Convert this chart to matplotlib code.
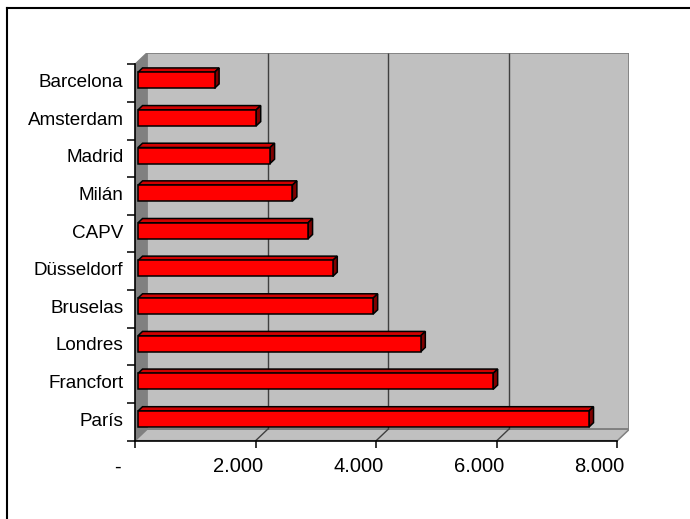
import matplotlib
matplotlib.use("Agg")
import matplotlib.pyplot as plt
from matplotlib.patches import Polygon, Rectangle
from matplotlib.lines import Line2D
from matplotlib.transforms import ScaledTranslation

plt.rcParams['font.family'] = ['Liberation Sans', 'DejaVu Sans']

categories = ["París", "Francfort", "Londres", "Bruselas", "Düsseldorf",
              "CAPV", "Milán", "Madrid", "Amsterdam", "Barcelona"]
values = [7480, 5890, 4690, 3900, 3230, 2820, 2560, 2190, 1960, 1270]
xticks = [0, 2000, 4000, 6000, 8000]
xticklabels = ["-", "2.000", "4.000", "6.000", "8.000"]

W, H = 690, 519
fig = plt.figure(figsize=(W / 100, H / 100), dpi=100)

# 3D depth offsets in data units
DX = 200.0
DY = 0.305
XMAX = 8000
n = len(categories)
y0, y1 = -0.5, n - 0.5

left_px, right_px = 135.0, 629.4
bottom_px, top_px = 440.7, 52.8
ax = fig.add_axes([left_px / W, 1 - bottom_px / H,
                   (right_px - left_px) / W, (bottom_px - top_px) / H])
ax.set_xlim(0, XMAX + DX)
ax.set_ylim(y0, y1 + DY)
ax.patch.set_visible(False)

wall_col = '#C0C0C0'
side_col = '#808080'
edge_col = '#808080'

# side wall
ax.add_patch(Polygon([(0, y0), (DX, y0 + DY), (DX, y1 + DY), (0, y1)],
                     closed=True, facecolor=side_col, edgecolor=side_col,
                     lw=1, zorder=1))
# back wall
ax.add_patch(Rectangle((DX, y0 + DY), XMAX, y1 - y0, facecolor=wall_col,
                       edgecolor=edge_col, lw=1.3, zorder=1))
# floor
ax.add_patch(Polygon([(0, y0), (XMAX, y0), (XMAX + DX, y0 + DY), (DX, y0 + DY)],
                     closed=True, facecolor=wall_col, edgecolor=edge_col,
                     lw=1.1, zorder=1.5))
# gridlines on wall and floor
for v in xticks[1:-1]:
    ax.plot([v + DX, v + DX], [y0 + DY, y1 + DY], color='#404040', lw=1.0,
            zorder=2, solid_capstyle='butt')
    ax.plot([v, v + DX], [y0, y0 + DY], color='#404040', lw=1.0, zorder=2)

# bars
f0, f1 = 0.25, 0.625
h = 0.2125
for i, v in enumerate(values):
    x0 = f0 * DX
    yb = i - h + f0 * DY
    yt = i + h + f0 * DY
    front = Polygon([(x0, yb), (v + x0, yb), (v + x0, yt), (x0, yt)],
                    closed=True, facecolor='#FF0000', edgecolor='black',
                    lw=1.1, zorder=5, joinstyle='miter')
    top = Polygon([(x0, yt), (v + x0, yt), (v + f1 * DX, yt + (f1 - f0) * DY),
                   (f1 * DX, yt + (f1 - f0) * DY)],
                  closed=True, facecolor='#D00000', edgecolor='black',
                  lw=1.1, zorder=4, joinstyle='miter')
    end = Polygon([(v + x0, yb), (v + f1 * DX, yb + (f1 - f0) * DY),
                   (v + f1 * DX, yt + (f1 - f0) * DY), (v + x0, yt)],
                  closed=True, facecolor='#800000', edgecolor='black',
                  lw=1.1, zorder=4, joinstyle='miter')
    ax.add_patch(top)
    ax.add_patch(end)
    ax.add_patch(front)

# spines
for s in ['top', 'right']:
    ax.spines[s].set_visible(False)
ax.spines['left'].set_bounds(y0, y1)
ax.spines['bottom'].set_bounds(0, XMAX)
for s in ['left', 'bottom']:
    ax.spines[s].set_linewidth(1.2)
    ax.spines[s].set_zorder(6)

# y axis: boundary ticks, labels at category centers
ax.set_yticks([k - 0.5 for k in range(n + 1)])
ax.set_yticklabels([])
ax.set_yticks([k + 0.07 for k in range(n)], minor=True)
ax.set_yticklabels(categories, minor=True)
ax.tick_params(axis='y', which='major', length=5.8, width=1.1, direction='out')
ax.tick_params(axis='y', which='minor', length=0, pad=8.3, labelsize=13.6)

# x axis
ax.set_xticks(xticks)
ax.set_xticklabels(xticklabels)
ax.tick_params(axis='x', which='major', length=5, width=1.1, direction='out',
               pad=7, labelsize=14.5)
off = ScaledTranslation(-18 / 100, 0, fig.dpi_scale_trans)
for lab in ax.get_xticklabels():
    lab.set_transform(lab.get_transform() + off)

# outer frame (only top and left are visible in the image)
fig.add_artist(Line2D([7 / W, 7 / W], [0, 1 - 8 / H], color='black', lw=1.5,
                      transform=fig.transFigure))
fig.add_artist(Line2D([7 / W, 1], [1 - 8 / H, 1 - 8 / H], color='black', lw=1.5,
                      transform=fig.transFigure))

fig.savefig('out.png', dpi=100, facecolor='white')
